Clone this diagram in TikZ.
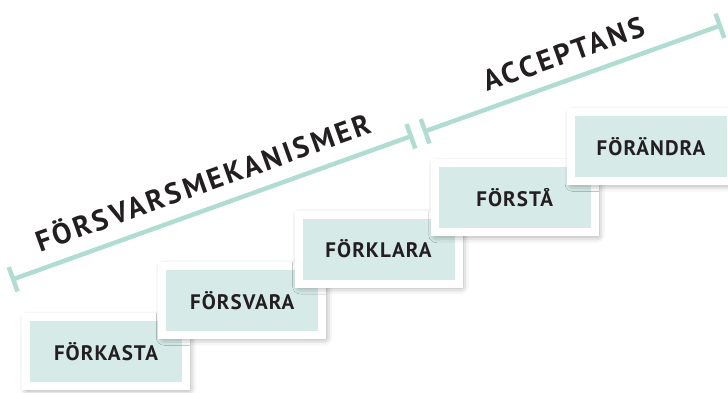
\documentclass[tikz,border=0pt]{standalone}
\usepackage{fontspec}
\setmainfont{PT Sans}[BoldFont={* Bold}]
\newfontfamily\phasefont{PT Sans}[BoldFont={* Bold},LetterSpace=10]
\newfontfamily\stagefont{PT Sans}[BoldFont={* Bold},LetterSpace=5]
\usepackage{xcolor}
\usetikzlibrary{shadows.blur,arrows.meta}
\definecolor{mint}{HTML}{B0DDD2}
\definecolor{pale}{HTML}{D6EBE8}
\definecolor{ink}{HTML}{231F20}
\def\stagep#1#2#3{\node [stage] (#1) at (#2) {#3}}
\tikzstyle{stage}=[draw=white,line width=8pt,fill=pale,minimum width=160pt,minimum height=69pt,inner sep=0pt,text=ink,font=\stagefont\bfseries\fontsize{21}{21}\selectfont,blur shadow={shadow xshift=2pt,shadow yshift=-2.5pt,shadow blur radius=8pt,shadow opacity=55}]
\tikzstyle{span}=[draw=mint,line width=4.5pt,{Bar[width=26pt]}-{Bar[width=26pt]}]
\tikzstyle{phase}=[text=ink,inner sep=0pt,font=\phasefont\bfseries\fontsize{29}{29}\selectfont]

\begin{document}
\begin{tikzpicture}[x=1pt,y=-1pt]
    \useasboundingbox (0,0) rectangle (728,393);
    \coordinate (m1) at (11,280);
    \coordinate (m2) at (413,135.5);
    \coordinate (a1) at (423,132);
    \coordinate (a2) at (722,25);
    \path[span] (m1) -- node[phase,sloped,anchor=base,yshift=16pt] (mtext) {FÖRSVARSMEKANISMER} (m2);
    \path[span] (a1) -- node[phase,sloped,anchor=base,yshift=16pt] (atext) {ACCEPTANS} (a2);
    \stagep{kasta}{106,351.5}{FÖRKASTA};
    \stagep{svara}{242.25,300.25}{FÖRSVARA};
    \stagep{klara}{378.5,249}{FÖRKLARA};
    \stagep{sta}{514.75,197.75}{FÖRSTÅ};
    \stagep{andra}{651,146.5}{FÖRÄNDRA};
  \end{tikzpicture}
\end{document}
